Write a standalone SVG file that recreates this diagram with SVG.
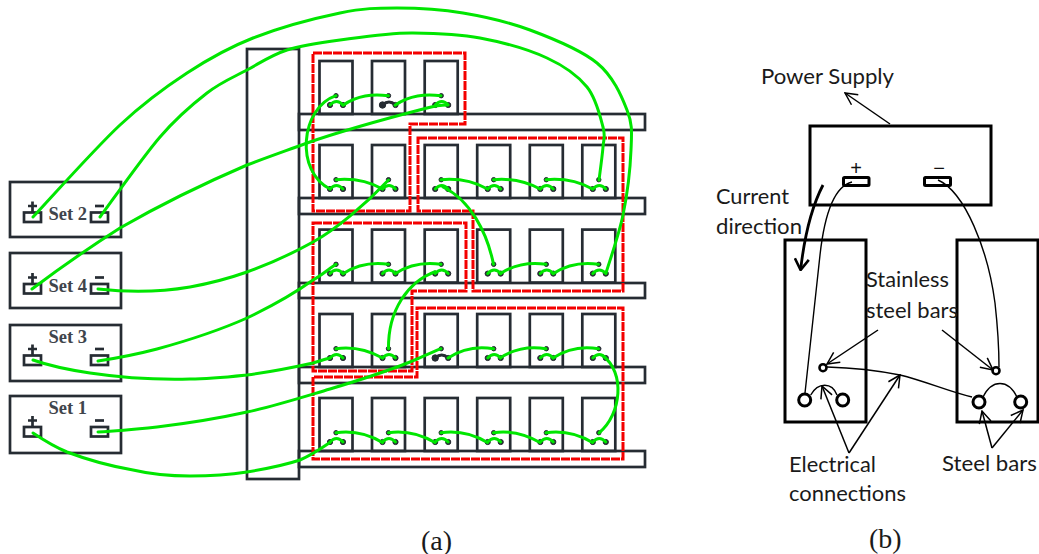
<svg xmlns="http://www.w3.org/2000/svg" width="1039" height="554" viewBox="0 0 1039 554">
<style>
.f{fill:none;stroke:#262c33;stroke-width:2.7}
.r{fill:none;stroke:#f40000;stroke-width:3;stroke-dasharray:9 1}
.g{fill:none;stroke:#00e600;stroke-width:3;stroke-linecap:round}
.d{fill:#262c33;stroke:#262c33}
.s{font:bold 18.500px "Liberation Serif",serif;fill:#3f454c}
.b{fill:none;stroke:#000;stroke-width:3}
.t{fill:none;stroke:#000;stroke-width:1.400}
.a{fill:none;stroke:#000;stroke-width:1.500}
.l{font:21.500px Lato,"Liberation Sans",sans-serif;fill:#1a1a1a}
.c{font:28px "Liberation Serif",serif;fill:#1a1a1a}
</style>
<defs>
<g id="cell"><rect class="f" width="33" height="53"/><circle class="d" cx="16.500" cy="34.700" r="2.200"/><circle class="d" cx="10.500" cy="44" r="2.600"/><circle class="d" cx="23.500" cy="44" r="2.600"/><path class="g" d="M10.500 44Q17 37 23.500 44"/></g>
<g id="cellx"><rect class="f" width="33" height="53"/><circle class="d" cx="16.500" cy="34.700" r="2.200"/><circle class="d" cx="10.500" cy="44" r="3.200"/><circle class="d" cx="23.500" cy="44" r="2.600"/><path d="M10.500 44Q17 38 23.500 44" fill="none" stroke="#262c33" stroke-width="3"/></g>
<g id="plus"><rect class="f" x="24" y="0" width="17" height="9.500"/><path class="f" d="M28 -6.500H37M32.500 -11V0"/></g>
<g id="minus"><rect class="f" x="91" y="0" width="17" height="9.500"/><path class="f" d="M95 -6.500H104"/></g>
<marker id="o" viewBox="0 0 14 14" refX="13" refY="7" markerWidth="14" markerHeight="14" orient="auto" markerUnits="userSpaceOnUse"><path d="M1 1L13 7L1 13" fill="none" stroke="#000" stroke-width="1.500"/></marker>
<marker id="h" viewBox="0 0 14 16" refX="13" refY="8" markerWidth="14" markerHeight="16" orient="auto" markerUnits="userSpaceOnUse"><path d="M2 1L13 8L2 15" fill="none" stroke="#000" stroke-width="2.600"/></marker>
</defs>
<g id="rack">
<rect class="f" x="247" y="49" width="52" height="430"/>
<rect class="f" x="299" y="114" width="346" height="16"/>
<rect class="f" x="299" y="198" width="346" height="16"/>
<rect class="f" x="299" y="283" width="346" height="15"/>
<rect class="f" x="299" y="367" width="346" height="16"/>
<rect class="f" x="299" y="451" width="346" height="16"/>
</g>
<g id="cells">
<use href="#cell" x="319.500" y="61"/><use href="#cellx" x="372" y="61"/><use href="#cell" x="424.700" y="61"/>
<use href="#cell" x="319.500" y="145"/><use href="#cell" x="372" y="145"/><use href="#cell" x="424.700" y="145"/><use href="#cell" x="477.200" y="145"/><use href="#cell" x="529.800" y="145"/><use href="#cell" x="582.300" y="145"/>
<use href="#cell" x="319.500" y="229.600"/><use href="#cell" x="372" y="229.600"/><use href="#cell" x="424.700" y="229.600"/><use href="#cell" x="477.200" y="229.600"/><use href="#cell" x="529.800" y="229.600"/><use href="#cell" x="582.300" y="229.600"/>
<use href="#cell" x="319.500" y="314"/><use href="#cell" x="372" y="314"/><use href="#cellx" x="424.700" y="314"/><use href="#cell" x="477.200" y="314"/><use href="#cell" x="529.800" y="314"/><use href="#cell" x="582.300" y="314"/>
<use href="#cell" x="319.500" y="398"/><use href="#cell" x="372" y="398"/><use href="#cell" x="424.700" y="398"/><use href="#cell" x="477.200" y="398"/><use href="#cell" x="529.800" y="398"/><use href="#cell" x="582.300" y="398"/>
</g>
<g id="groups">
<path class="r" d="M313 53H465V124H410V211H313Z"/>
<path class="r" d="M418 138H623V291H473V211H418Z"/>
<path class="r" d="M313 223H466V291H412V371H313Z"/>
<path class="r" d="M417 308H623V459H313V377H417Z"/>
</g>
<g id="set2"><rect class="f" x="10" y="182" width="111" height="55"/><use href="#plus" y="212.500"/><use href="#minus" y="212.500"/><text class="s" x="48.500" y="220">Set 2</text></g>
<g id="set4"><rect class="f" x="10" y="253" width="111" height="55"/><use href="#plus" y="284"/><use href="#minus" y="284"/><text class="s" x="48.500" y="292">Set 4</text></g>
<g id="set3"><rect class="f" x="10" y="325" width="111" height="56"/><use href="#plus" y="355.500"/><use href="#minus" y="355.500"/><text class="s" x="48.500" y="343">Set 3</text></g>
<g id="set1"><rect class="f" x="10" y="396" width="111" height="57"/><use href="#plus" y="427"/><use href="#minus" y="427"/><text class="s" x="48.500" y="414">Set 1</text></g>
<g id="wires">
<path class="g" d="M343 105.200C358 95 372 94 388.500 95.700M395 105.200C410 95 425 94 441 95.700"/>
<path class="g" d="M336 95.700C300 108 295 172 330 189"/>
<path class="g" d="M336 179.700C355 178 370 182 382.500 189M441 179.700C460 178 475 182 487.500 189M493.500 179.700C512 178 527 182 540 189M546 179.700C565 178 580 182 592.500 189"/>
<path class="g" d="M443 187C470 200 487 232 493.500 264.300"/>
<path class="g" d="M343 273.700C358 264 372 262 388.500 264.300M395 273.700C410 264 425 262 441 264.300M500 273.700C515 264 530 262 546 264.300M553 273.700C568 264 583 262 598.500 264.300"/>
<path class="g" d="M435 271.700C408 282 388 310 388.500 348.700"/>
<path class="g" d="M336 348.700C355 346 370 351 382.500 358M448 358C463 348 478 346 493.500 348.700M500 358C515 348 530 346 546 348.700M553 358C568 348 583 346 598.500 348.700"/>
<path class="g" d="M603 356C625 372 622 414 599 433"/>
<path class="g" d="M336 432.700C355 430 370 435 382.500 442.500M388.500 432.700C407 430 422 435 435 442.500M441 432.700C460 430 475 435 487.500 442.500M493.500 432.700C512 430 527 435 540 442.500M546 432.700C565 430 580 435 592.500 442.500"/>
<path class="g" d="M33 217C47.500 201.700 94.300 149 120 125C145.700 101 164.800 87.500 187 73C209.200 58.500 227.500 48 253 38C278.500 28 316 18 340 13C364 8 376.500 8 397 8C417.500 8 441 9.300 463 13C485 16.700 507.700 21.700 530 30C552.300 38.300 580.800 49.700 597 63C613.200 76.300 621.300 95.500 627 110C632.700 124.500 631.700 132.500 631 150C630.300 167.500 627.200 194.500 623 215C618.800 235.500 608.800 263.300 606 273"/>
<path class="g" d="M100 217C110 203.700 142.200 157.700 160 137C177.800 116.300 192.500 104.200 207 93C221.500 81.800 233.700 77.200 247 70C260.300 62.800 271.500 55 287 50C302.500 45 319 42.800 340 40C361 37.200 389.700 32.700 413 33C436.300 33.300 457.700 33.800 480 38C502.300 42.200 529.200 49.800 547 58C564.800 66.200 577.700 75.500 587 87C596.300 98.500 600.300 117 603 127C605.700 137 603.700 138.200 603 147C602.300 156 599.700 174.500 599 180"/>
<path class="g" d="M32 289C60 268 90 247 120 228C160 205 205 183 247 165C268 157 288 150 307 143C350 128 400 115 427 108Q438 105 447 105"/>
<path class="g" d="M98 289C125 292 155 293 190 287C212 283 230 278 247 272C272 263 295 252 313 242C335 230 365 205 388.500 180"/>
<path class="g" d="M98 361C118 358 138 354 157 349C190 340 220 330 247 318C272 306 295 293 313 280C322 275 330 268 336 264.300"/>
<path class="g" d="M33 360C50 366 70 370 90 373C110 376 150 380 190 379C210 379 228 377 247 375C270 372 295 367 313 363C320 361 325 359 330 358"/>
<path class="g" d="M98 432C118 431 138 429 157 427C190 423 220 418 247 412C275 406 303 397 330 389C360 380 385 372 410 362C420 358 430 353 441 348.700"/>
<path class="g" d="M33 433C45 441 55 447 67 452C88 460 110 466 133 470C150 474 170 476 190 476C210 476 228 475 247 472C265 469 285 465 300 460C312 455 322 448 330 442.500"/>
</g>
<g id="power-supply"><rect class="b" x="810" y="126" width="181" height="79"/><rect class="b" x="843.500" y="177.500" width="25.500" height="8" rx="1"/><rect class="b" x="924.500" y="177.500" width="26" height="8" rx="1"/><text x="856" y="175" font-family="Liberation Sans,sans-serif" font-size="20" text-anchor="middle" fill="#111">+</text><text x="939" y="175" font-family="Liberation Sans,sans-serif" font-size="20" text-anchor="middle" fill="#111">−</text></g>
<g id="tank-left"><rect class="b" x="785" y="240" width="81" height="182"/></g>
<g id="tank-right"><rect class="b" x="957" y="240" width="81" height="182"/></g>
<g id="bars">
<circle cx="823" cy="367.700" r="3.500" fill="none" stroke="#000" stroke-width="2.600"/>
<circle cx="996" cy="370.700" r="3.500" fill="none" stroke="#000" stroke-width="2.600"/>
<circle cx="804.700" cy="400" r="6" fill="none" stroke="#000" stroke-width="3"/>
<circle cx="842.700" cy="400" r="6" fill="none" stroke="#000" stroke-width="3"/>
<circle cx="979" cy="402" r="6" fill="none" stroke="#000" stroke-width="3"/>
<circle cx="1020.700" cy="402" r="6" fill="none" stroke="#000" stroke-width="3"/>
</g>
<g id="connections">
<path class="t" d="M852 182C835 186 825 210 820 255L805 393"/>
<path class="t" d="M938 180C965 192 988 250 995 303C998 330 999 350 999 367"/>
<path class="t" d="M810.700 395C818 382 832 382 837 395"/>
<path class="t" d="M983 397C992 379 1008 379 1017 397"/>
<path class="t" d="M827 367C860 368 880 371 900 375C925 381 950 392 972 397"/>
<path class="a" marker-end="url(#o)" d="M890 124L845 93"/>
<path class="a" marker-end="url(#o)" d="M878 330L827 364"/>
<path class="a" marker-end="url(#o)" d="M942 330L993 370"/>
<path class="a" marker-end="url(#o)" d="M849 453L822 386"/>
<path class="a" marker-end="url(#o)" d="M849 453L900 375"/>
<path class="a" marker-end="url(#o)" d="M992 448L982 411"/>
<path class="a" marker-end="url(#o)" d="M992 448L1023 410"/>
<path marker-end="url(#h)" fill="none" stroke="#000" stroke-width="2.800" d="M823 185C810 210 804 240 800.600 270"/>
</g>
<g id="labels">
<text class="l" x="761" y="84" textLength="133" lengthAdjust="spacingAndGlyphs">Power Supply</text>
<text class="l" x="716" y="204" textLength="73" lengthAdjust="spacingAndGlyphs">Current</text>
<text class="l" x="716" y="234" textLength="86" lengthAdjust="spacingAndGlyphs">direction</text>
<text class="l" x="866" y="287" textLength="83" lengthAdjust="spacingAndGlyphs">Stainless</text>
<text class="l" x="866" y="318" textLength="92" lengthAdjust="spacingAndGlyphs">steel bars</text>
<text class="l" x="789" y="472" textLength="87" lengthAdjust="spacingAndGlyphs">Electrical</text>
<text class="l" x="789" y="501" textLength="117" lengthAdjust="spacingAndGlyphs">connections</text>
<text class="l" x="942" y="471" textLength="95" lengthAdjust="spacingAndGlyphs">Steel bars</text>
<text class="c" x="421" y="550">(a)</text>
<text class="c" x="869" y="548">(b)</text>
</g>
</svg>
